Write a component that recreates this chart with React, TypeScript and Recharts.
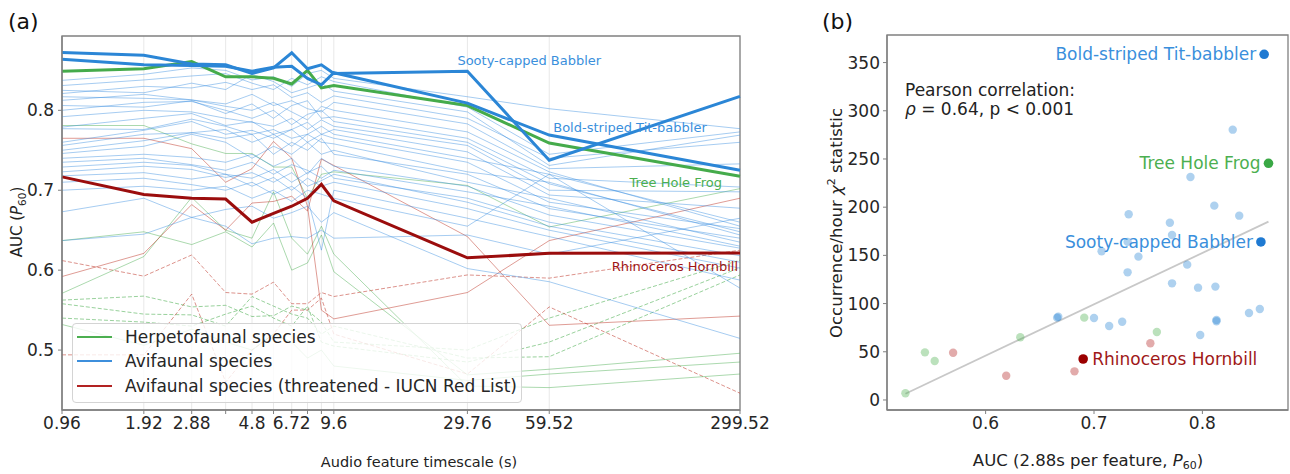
import React from 'react';
import {
  LineChart, Line, XAxis, YAxis, CartesianGrid, ReferenceArea,
  ScatterChart, Scatter, ReferenceLine,
} from 'recharts';

const FONT = "'DejaVu Sans', Verdana, sans-serif";

// ---------------- Panel (a) data ----------------
const TIMESCALES = [0.96, 1.92, 2.88, 3.84, 4.8, 5.76, 6.72, 7.68, 8.64, 9.6, 29.76, 59.52, 299.52];
const LABELED_TIMESCALES = [0.96, 1.92, 2.88, 4.8, 6.72, 9.6, 29.76, 59.52, 299.52];
const AUC_TICKS = [0.5, 0.6, 0.7, 0.8];
const AUC_DOMAIN = [0.425, 0.893];

// highlighted species
const SOOTY = [0.8725, 0.869, 0.858, 0.857, 0.846, 0.853, 0.872, 0.852, 0.857, 0.846, 0.849, 0.7375, 0.8175];
const BOLD_STRIPED = [0.864, 0.857, 0.856, 0.855, 0.849, 0.854, 0.855, 0.84, 0.832, 0.847, 0.809, 0.769, 0.725];
const TREE_HOLE = [0.849, 0.852, 0.861, 0.842, 0.842, 0.84, 0.833, 0.85, 0.828, 0.831, 0.806, 0.759, 0.7175];
const RHINO = [0.7167, 0.6946, 0.69, 0.689, 0.66, 0.671, 0.68, 0.69, 0.7075, 0.6867, 0.6154, 0.621, 0.6216];

// avifaunal species (thin blue)
const B01 = [0.8375, 0.845, 0.853, 0.85, 0.838, 0.842, 0.83, 0.846, 0.85, 0.84, 0.817, 0.802, 0.777];
const B02 = [0.831, 0.838, 0.843, 0.846, 0.834, 0.826, 0.84, 0.832, 0.842, 0.836, 0.804, 0.745, 0.773];
const B03 = [0.825, 0.822, 0.834, 0.826, 0.845, 0.836, 0.822, 0.828, 0.834, 0.824, 0.798, 0.731, 0.769];
const B04 = [0.821, 0.83, 0.828, 0.835, 0.826, 0.832, 0.816, 0.822, 0.81, 0.818, 0.79, 0.74, 0.76];
const B05 = [0.817, 0.815, 0.813, 0.808, 0.82, 0.806, 0.812, 0.802, 0.798, 0.81, 0.783, 0.727, 0.733];
const B06 = [0.8125, 0.82, 0.813, 0.805, 0.8, 0.81, 0.798, 0.788, 0.805, 0.8, 0.773, 0.723, 0.655];
const B07 = [0.806, 0.804, 0.812, 0.796, 0.808, 0.79, 0.806, 0.812, 0.79, 0.792, 0.765, 0.715, 0.704];
const B08 = [0.8, 0.81, 0.811, 0.8, 0.79, 0.8, 0.782, 0.795, 0.8, 0.786, 0.76, 0.708, 0.648];
const B09 = [0.792, 0.8, 0.798, 0.79, 0.785, 0.78, 0.79, 0.776, 0.788, 0.78, 0.756, 0.7, 0.698];
const B10 = [0.779, 0.79, 0.796, 0.781, 0.786, 0.77, 0.776, 0.785, 0.77, 0.776, 0.748, 0.694, 0.6775];
const B11 = [0.777, 0.776, 0.789, 0.78, 0.77, 0.776, 0.765, 0.77, 0.78, 0.77, 0.74, 0.72, 0.66];
const B12 = [0.76, 0.775, 0.786, 0.77, 0.775, 0.765, 0.776, 0.76, 0.77, 0.765, 0.735, 0.685, 0.652];
const B13 = [0.756, 0.77, 0.772, 0.776, 0.76, 0.77, 0.755, 0.77, 0.76, 0.758, 0.723, 0.71, 0.644];
const B14 = [0.75, 0.762, 0.772, 0.765, 0.77, 0.745, 0.76, 0.75, 0.765, 0.745, 0.72, 0.677, 0.64];
const B15 = [0.746, 0.755, 0.77, 0.76, 0.74, 0.755, 0.745, 0.76, 0.745, 0.75, 0.71, 0.69, 0.635];
const B16 = [0.74, 0.745, 0.741, 0.735, 0.745, 0.73, 0.74, 0.72, 0.74, 0.73, 0.705, 0.669, 0.6275];
const B17 = [0.735, 0.74, 0.732, 0.725, 0.735, 0.72, 0.732, 0.725, 0.715, 0.725, 0.698, 0.68, 0.63];
const B18 = [0.729, 0.735, 0.731, 0.72, 0.715, 0.726, 0.71, 0.722, 0.73, 0.715, 0.69, 0.66, 0.618];
const B19 = [0.723, 0.73, 0.726, 0.716, 0.722, 0.71, 0.722, 0.705, 0.712, 0.72, 0.685, 0.655, 0.61];
const B20 = [0.718, 0.722, 0.714, 0.72, 0.705, 0.716, 0.7, 0.715, 0.705, 0.71, 0.677, 0.65, 0.6025];
const B21 = [0.71, 0.715, 0.707, 0.7, 0.71, 0.695, 0.705, 0.69, 0.625, 0.7, 0.665, 0.642, 0.5875];
const B22 = [0.7, 0.705, 0.7, 0.705, 0.69, 0.7, 0.686, 0.7, 0.695, 0.69, 0.655, 0.72, 0.5775];
const B23 = [0.673, 0.69, 0.666, 0.676, 0.68, 0.665, 0.672, 0.68, 0.66, 0.672, 0.602, 0.5855, 0.5146];
const B24 = [0.637, 0.645, 0.666, 0.655, 0.633, 0.64, 0.642, 0.64, 0.65, 0.64, 0.644, 0.62, 0.665];

// herpetofaunal species (thin green)
const G1 = [0.781, 0.781, 0.758, 0.746, 0.746, 0.729, 0.729, 0.69, 0.72, 0.723, 0.706, 0.654, 0.702];
const G2 = [0.637, 0.648, 0.632, 0.648, 0.629, 0.659, 0.6, 0.609, 0.644, 0.598, 0.469, 0.476, 0.496];
const G3 = [0.571, 0.617, 0.691, 0.65, 0.64, 0.698, 0.64, 0.62, 0.655, 0.62, 0.455, 0.453, 0.47];
const G4 = [0.532, 0.506, 0.526, 0.51, 0.5, 0.52, 0.51, 0.49, 0.5, 0.48, 0.462, 0.47, 0.485];
const GD1 = [0.5625, 0.5675, 0.554, 0.556, 0.542, 0.543, 0.555, 0.55, 0.535, 0.51, 0.5, 0.54, 0.6125];
const GD2 = [0.558, 0.545, 0.544, 0.53, 0.567, 0.555, 0.545, 0.54, 0.52, 0.53, 0.49, 0.4917, 0.594];
const GD3 = [0.54, 0.535, 0.53, 0.545, 0.555, 0.54, 0.53, 0.555, 0.51, 0.505, 0.485, 0.51, 0.603];

// threatened avifaunal species (thin red)
const R1 = [0.765, 0.765, 0.752, 0.71, 0.727, 0.761, 0.74, 0.68, 0.55, 0.539, 0.572, 0.637, 0.69];
const R2 = [0.592, 0.621, 0.682, 0.65, 0.684, 0.686, 0.6925, 0.674, 0.739, 0.731, 0.642, 0.531, 0.5425];
const RD1 = [0.612, 0.5925, 0.619, 0.572, 0.57, 0.585, 0.558, 0.558, 0.572, 0.567, 0.594, 0.59, 0.625];
const RD2 = [0.494, 0.494, 0.57, 0.46, 0.5, 0.52, 0.55, 0.55, 0.565, 0.52, 0.47, 0.554, 0.446];

const BLUE_THIN = [B01, B02, B03, B04, B05, B06, B07, B08, B09, B10, B11, B12, B13, B14, B15, B16, B17, B18, B19, B20, B21, B22, B23, B24];
const GREEN_THIN = [G1, G2, G3, G4];
const GREEN_DASHED = [GD1, GD2, GD3];
const RED_THIN = [R1, R2];
const RED_DASHED = [RD1, RD2];

const LEGEND_LABELS = ['Herpetofaunal species', 'Avifaunal species', 'Avifaunal species (threatened - IUCN Red List)'];

// ---------------- Panel (b) data ----------------
const BLUE_AUC = [0.828, 0.789, 0.811, 0.732, 0.834, 0.77, 0.772, 0.731, 0.707, 0.741, 0.731, 0.786, 0.772, 0.796, 0.812, 0.843, 0.853, 0.813, 0.813, 0.798, 0.666, 0.667, 0.7, 0.714, 0.726];
const BLUE_CHI = [280.4, 231.3, 201.6, 192.6, 191.2, 183.9, 171.2, 164, 154.2, 148.7, 132.4, 140.4, 121, 116.5, 117.6, 90.2, 94.4, 83, 81.6, 67.4, 85.4, 86.4, 85, 76.8, 81.2];
const GREEN_AUC = [0.691, 0.758, 0.632, 0.544, 0.553, 0.526];
const GREEN_CHI = [85.4, 70.5, 65, 49.4, 40.4, 6.9];
const RED_AUC = [0.752, 0.682, 0.619, 0.57];
const RED_CHI = [58.8, 29.7, 25.2, 49];
const HIGHLIGHT_NAMES = ['Bold-striped Tit-babbler', 'Tree Hole Frog', 'Sooty-capped Babbler', 'Rhinoceros Hornbill'];
const HIGHLIGHT_AUC = [0.857, 0.861, 0.854, 0.69];
const HIGHLIGHT_CHI = [358.6, 245.5, 163.9, 42.5];
const FIT_AUC = [0.526, 0.861];
const FIT_CHI = [6.5, 185];
const CHI_TICKS = [0, 50, 100, 150, 200, 250, 300, 350];
const CHI_DOMAIN = [-10.4, 378.6];
const AUC_B_TICKS = [0.6, 0.7, 0.8];
const AUC_B_DOMAIN = [0.509, 0.879];

// ---------------- styles ----------------
const C_BLUE = '#2b86d6';
const C_BLUE_TXT = '#3a8fdc';
const C_GREEN = '#45ab4b';
const C_GREEN_TXT = '#4caf50';
const C_RED = '#9b0d0d';
const C_RED_THIN = '#c0392b';
const SPINE = '#808080';
const TICK_STYLE = { fontFamily: FONT, fontSize: 17, fill: '#262626' };

type Thin = { key: string; values: number[]; color: string; opacity: number; dash?: string };

const THIN: Thin[] = [
  ...GREEN_DASHED.map((v, i) => ({ key: `gd${i}`, values: v, color: C_GREEN, opacity: 0.55, dash: '4 2' })),
  ...RED_DASHED.map((v, i) => ({ key: `rd${i}`, values: v, color: C_RED_THIN, opacity: 0.55, dash: '4 2' })),
  ...GREEN_THIN.map((v, i) => ({ key: `g${i}`, values: v, color: C_GREEN, opacity: 0.45 })),
  ...RED_THIN.map((v, i) => ({ key: `r${i}`, values: v, color: C_RED_THIN, opacity: 0.5 })),
  ...BLUE_THIN.map((v, i) => ({ key: `b${i}`, values: v, color: '#3a8ee0', opacity: 0.45 })),
];

type Bold = { key: string; values: number[]; color: string; text: string; textColor: string; idx: number; dx: number; dy: number; anchor: 'start' | 'end' };
const BOLD: Bold[] = [
  { key: 'treeHole', values: TREE_HOLE, color: C_GREEN, text: 'Tree Hole Frog', textColor: C_GREEN_TXT, idx: 12, dx: -18, dy: 11, anchor: 'end' },
  { key: 'boldStriped', values: BOLD_STRIPED, color: C_BLUE, text: 'Bold-striped Tit-babbler', textColor: C_BLUE_TXT, idx: 11, dx: 4, dy: -3, anchor: 'start' },
  { key: 'sooty', values: SOOTY, color: C_BLUE, text: 'Sooty-capped Babbler', textColor: C_BLUE_TXT, idx: 10, dx: -10, dy: -6, anchor: 'start' },
  { key: 'rhino', values: RHINO, color: C_RED, text: 'Rhinoceros Hornbill', textColor: '#a01515', idx: 12, dx: -2, dy: 18, anchor: 'end' },
];

const LEGEND_COLORS = [C_GREEN_TXT, '#3d8fdc', '#b22222'];
const HIGHLIGHT_COLORS = ['#1f7ad2', '#3aa845', '#1f7ad2', '#9b0000'];
const HIGHLIGHT_TEXT = [C_BLUE_TXT, C_GREEN_TXT, C_BLUE_TXT, '#a01818'];

export default function App() {
  const rows = TIMESCALES.map((t, i) => {
    const r: Record<string, number> = { t };
    THIN.forEach((s) => { r[s.key] = s.values[i]; });
    BOLD.forEach((s) => { r[s.key] = s.values[i]; });
    return r;
  });

  const toPts = (xs: number[], ys: number[]) => xs.map((x, i) => ({ auc: x, chi: ys[i] }));
  const bluePts = toPts(BLUE_AUC, BLUE_CHI);
  const greenPts = toPts(GREEN_AUC, GREEN_CHI);
  const redPts = toPts(RED_AUC, RED_CHI);
  const hiPts = HIGHLIGHT_AUC.map((x, i) => ({ auc: x, chi: HIGHLIGHT_CHI[i], name: HIGHLIGHT_NAMES[i], i }));

  const lightDot = (color: string) => (p: any) => (
    <circle cx={p.cx} cy={p.cy} r={4.2} fill={color} fillOpacity={0.38} />
  );

  return (
    <div style={{ position: 'absolute', left: 0, top: 0, width: 1290, height: 474, background: '#fff', fontFamily: FONT }}>
      {/* Panel (a) */}
      <div style={{ position: 'absolute', left: 0, top: 0 }}>
        <LineChart width={790} height={474} data={rows} margin={{ top: 36, right: 50, bottom: 34, left: 8 }}>
          <CartesianGrid horizontal={false} stroke="#e8e8e8" strokeWidth={1} />
          <XAxis
            dataKey="t" type="number" scale="log" domain={[TIMESCALES[0], TIMESCALES[TIMESCALES.length - 1]]}
            ticks={TIMESCALES} interval={0} height={30}
            tickFormatter={(v: number) => (LABELED_TIMESCALES.includes(v) ? String(v) : '')}
            tick={TICK_STYLE} tickSize={4} tickMargin={3}
            axisLine={{ stroke: SPINE, strokeWidth: 1.3 }} tickLine={{ stroke: SPINE }}
          />
          <YAxis
            type="number" domain={AUC_DOMAIN} ticks={AUC_TICKS} width={54}
            tickFormatter={(v: number) => v.toFixed(1)}
            tick={TICK_STYLE} tickSize={4} tickMargin={4}
            axisLine={{ stroke: SPINE, strokeWidth: 1.3 }} tickLine={{ stroke: SPINE }}
          />
          {THIN.map((s) => (
            <Line
              key={s.key} dataKey={s.key} type="linear" stroke={s.color} strokeOpacity={s.opacity}
              strokeWidth={1} strokeDasharray={s.dash} dot={false} activeDot={false} isAnimationActive={false}
            />
          ))}
          {BOLD.map((s) => (
            <Line
              key={s.key} dataKey={s.key} type="linear" stroke={s.color} strokeWidth={3}
              activeDot={false} isAnimationActive={false}
              dot={(p: any) =>
                p.index === s.idx ? (
                  <text key={`${s.key}-lbl`} x={p.cx + s.dx} y={p.cy + s.dy} textAnchor={s.anchor}
                    fill={s.textColor} fontSize={13} fontFamily={FONT}>{s.text}</text>
                ) : (
                  <g key={`${s.key}-${p.index}`} />
                )
              }
            />
          ))}
          <ReferenceArea x1={TIMESCALES[0]} x2={TIMESCALES[TIMESCALES.length - 1]} y1={AUC_DOMAIN[0]} y2={AUC_DOMAIN[1]}
            fill="none" stroke={SPINE} strokeWidth={1.3} ifOverflow="visible" />
        </LineChart>
      </div>

      {/* Panel (b) */}
      <div style={{ position: 'absolute', left: 790, top: 0 }}>
        <ScatterChart width={500} height={474} margin={{ top: 35, right: 2, bottom: 34, left: 47 }}>
          <XAxis
            dataKey="auc" type="number" domain={AUC_B_DOMAIN} ticks={AUC_B_TICKS} interval={0} height={30}
            tickFormatter={(v: number) => v.toFixed(1)}
            tick={TICK_STYLE} tickSize={4} tickMargin={3}
            axisLine={{ stroke: SPINE, strokeWidth: 1.3 }} tickLine={{ stroke: SPINE }}
          />
          <YAxis
            dataKey="chi" type="number" domain={CHI_DOMAIN} ticks={CHI_TICKS} width={50}
            tick={TICK_STYLE} tickSize={4} tickMargin={3}
            axisLine={{ stroke: SPINE, strokeWidth: 1.3 }} tickLine={{ stroke: SPINE }}
          />
          <ReferenceLine
            segment={[{ x: FIT_AUC[0], y: FIT_CHI[0] }, { x: FIT_AUC[1], y: FIT_CHI[1] }]}
            stroke="#c8c8c8" strokeWidth={1.8}
          />
          <Scatter data={bluePts} shape={lightDot(C_BLUE)} isAnimationActive={false} />
          <Scatter data={greenPts} shape={lightDot(C_GREEN_TXT)} isAnimationActive={false} />
          <Scatter data={redPts} shape={lightDot('#b22222')} isAnimationActive={false} />
          <Scatter
            data={hiPts} isAnimationActive={false}
            shape={(p: any) => {
              const i = p.payload.i;
              const right = i === 3;
              return (
                <g>
                  <circle cx={p.cx} cy={p.cy} r={4.8} fill={HIGHLIGHT_COLORS[i]} />
                  <text x={right ? p.cx + 9 : p.cx - 8} y={p.cy + 6} textAnchor={right ? 'start' : 'end'}
                    fill={HIGHLIGHT_TEXT[i]} fontSize={17} fontFamily={FONT}>{p.payload.name}</text>
                </g>
              );
            }}
          />
          <ReferenceArea x1={AUC_B_DOMAIN[0]} x2={AUC_B_DOMAIN[1]} y1={CHI_DOMAIN[0]} y2={CHI_DOMAIN[1]}
            fill="none" stroke={SPINE} strokeWidth={1.3} ifOverflow="visible" />
        </ScatterChart>
      </div>

      {/* annotation texts */}
      <svg width={1290} height={474} style={{ position: 'absolute', left: 0, top: 0, pointerEvents: 'none' }} fontFamily={FONT}>
        <text x={8} y={29} fontSize={22} fill="#111">(a)</text>
        <text x={822} y={29} fontSize={22} fill="#111">(b)</text>
        <text x={419} y={467} fontSize={14.5} fill="#222" textAnchor="middle">Audio feature timescale (s)</text>
        <text transform="translate(22,222) rotate(-90)" fontSize={15} fill="#222" textAnchor="middle">
          AUC (<tspan fontStyle="italic">P</tspan><tspan fontSize={10.5} dy={4}>60</tspan><tspan dy={-4}>)</tspan>
        </text>
        <text x={1088} y={466} fontSize={16.5} fill="#222" textAnchor="middle">
          AUC (2.88s per feature, <tspan fontStyle="italic">P</tspan><tspan fontSize={11} dy={3}>60</tspan><tspan dy={-3}>)</tspan>
        </text>
        <text transform="translate(842,223) rotate(-90)" fontSize={16.5} fill="#222" textAnchor="middle">
          Occurrence/hour <tspan fontStyle="italic">χ</tspan><tspan fontSize={11} dy={-7}>2</tspan><tspan dy={7}> statistic</tspan>
        </text>
        <text x={905} y={96} fontSize={17} fill="#222">Pearson correlation:</text>
        <text x={905} y={115} fontSize={17} fill="#222">
          <tspan fontStyle="italic">ρ</tspan> = 0.64, p &lt; 0.001
        </text>
      </svg>

      {/* legend of panel (a) */}
      <div style={{
        position: 'absolute', left: 72, top: 323, width: 450, height: 80, boxSizing: 'border-box',
        background: 'rgba(255,255,255,0.8)', border: '1px solid #d4d4d4', borderRadius: 4,
        fontFamily: FONT, fontSize: 17, color: '#262626',
      }}>
        {LEGEND_LABELS.map((label, i) => (
          <div key={label} style={{ position: 'absolute', left: 4, top: 1 + i * 24.3, height: 24, display: 'flex', alignItems: 'center', whiteSpace: 'nowrap' }}>
            <div style={{ width: 35, height: 2, background: LEGEND_COLORS[i], marginRight: 13 }} />
            <span>{label}</span>
          </div>
        ))}
      </div>
    </div>
  );
}
